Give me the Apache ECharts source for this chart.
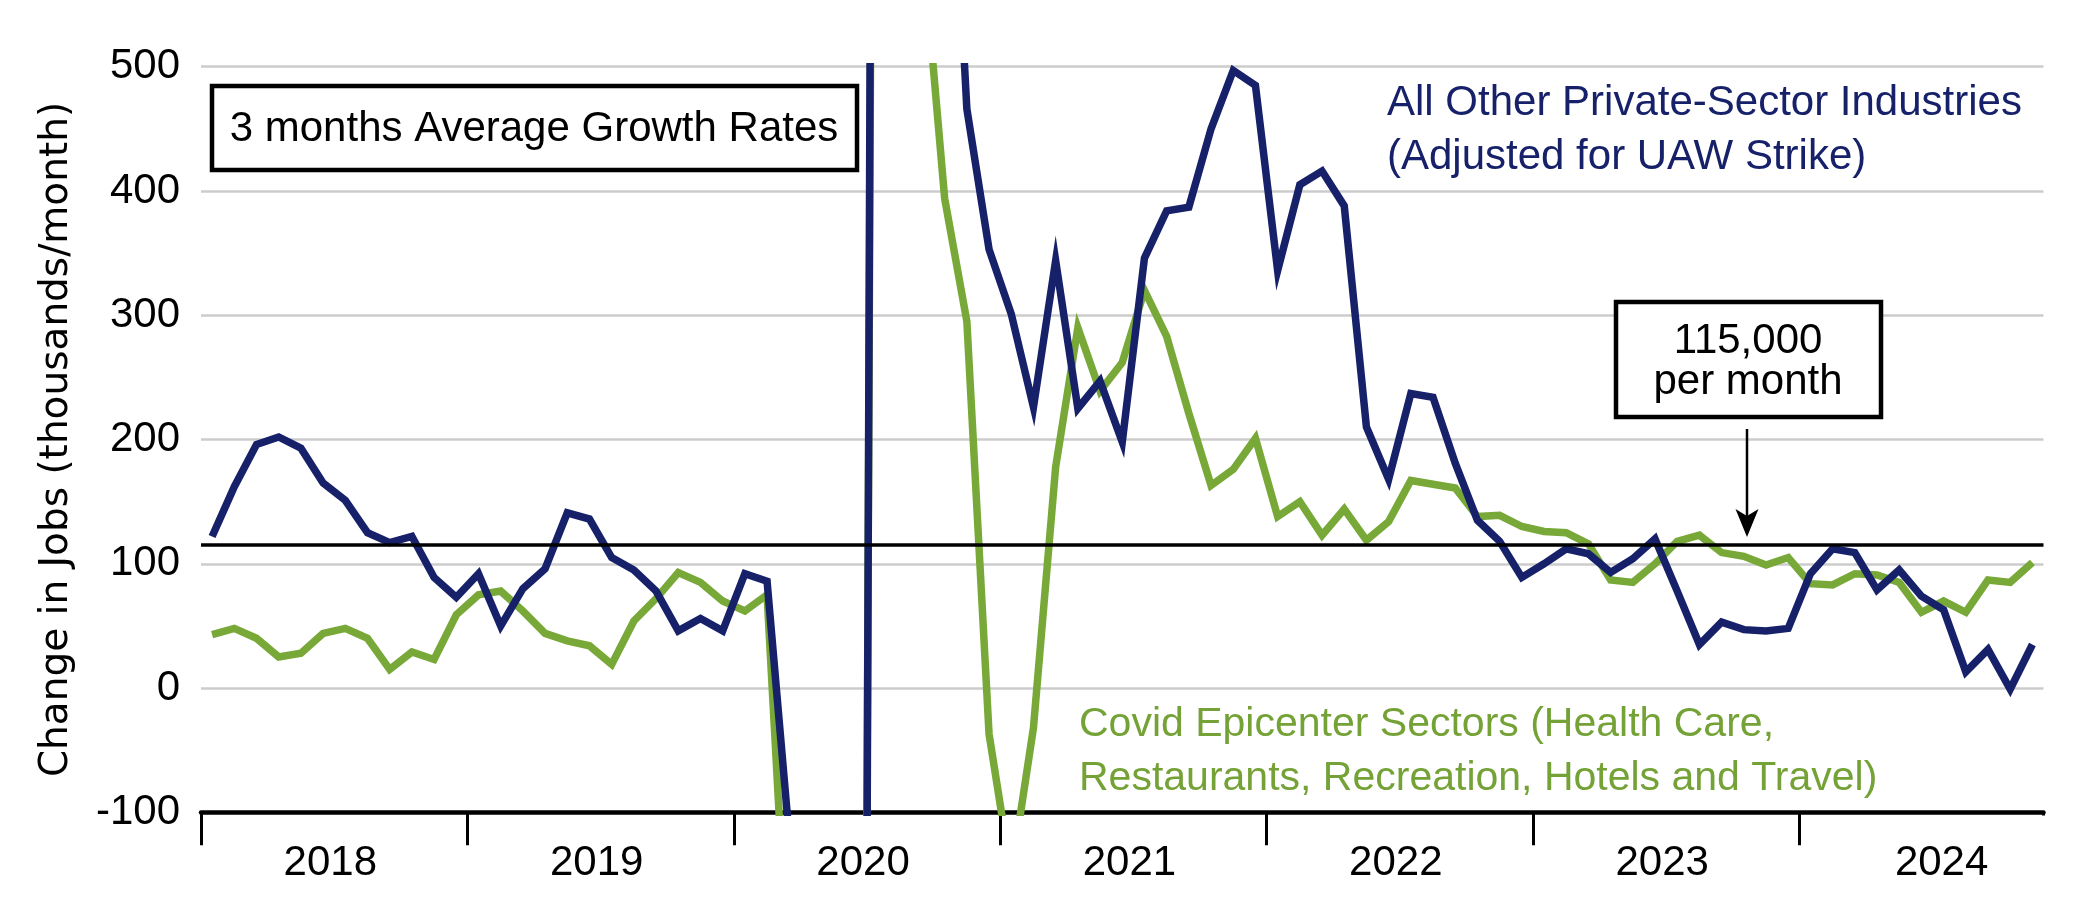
<!DOCTYPE html>
<html>
<head>
<meta charset="utf-8">
<script src="https://cdn.jsdelivr.net/npm/echarts@6/dist/echarts.min.js"></script>
<style>
  html, body { margin: 0; padding: 0; background: #ffffff; }
  #chart { width: 2084px; height: 918px; }
</style>
</head>
<body>
<div id="chart"></div>
<script>
// ---- Data (thousands of jobs per month, 3-month average), Jan 2018 - Nov 2024 ----
const years = ['2018', '2019', '2020', '2021', '2022', '2023', '2024'];
const monthsInLastYear = 11;
const categories = [];
years.forEach(function (y, yi) {
  const n = (yi === years.length - 1) ? monthsInLastYear : 12;
  for (let m = 1; m <= n; m++) categories.push(y + '-' + (m < 10 ? '0' + m : m));
});

const allOtherPrivate = [
  122, 162, 196, 202, 193, 165, 151, 125, 117, 122, 89, 73,
  92, 50, 80, 96, 141, 136, 105, 95, 78, 46, 56, 46,
  92, 86, -120, -6500, -4000, -2500, 2200, 1800, 1100, 800, 466, 353,
  301, 226, 344, 225, 247, 198, 346, 384, 387, 450, 497, 485,
  336, 405, 416, 388, 210, 168, 237, 234, 181, 135, 118, 89,
  100, 112, 108, 93, 104, 120, 78, 35, 53, 47, 46, 48,
  92, 112, 109, 79, 95, 74, 63, 13, 31, -1, 35
];

const covidEpicenter = [
  43, 48, 40, 25, 28, 44, 48, 40, 15, 29, 23, 59,
  75, 78, 62, 44, 38, 34, 19, 54, 72, 93, 85, 70,
  62, 75, -250, -3500, -2800, -2000, 1800, 1100, 600, 394, 295, -37,
  -150, -32, 178, 290, 239, 262, 320, 283, 221, 163, 176, 201,
  138, 150, 123, 144, 119, 134, 167, 164, 161, 138, 139, 130,
  126, 125, 116, 87, 85, 100, 118, 123, 109, 106, 99, 105,
  84, 83, 92, 91, 85, 61, 70, 61, 87, 85, 101
];

const referenceLevel = 115;
const yTicks = { min: -100, max: 500, interval: 100 };

const BLUE = '#16216a';
const GREEN = '#78a938';
const SANS = '"Liberation Sans", Arial, sans-serif';

const chart = echarts.init(document.getElementById('chart'), null, { renderer: 'canvas' });

const option = {
  animation: false,
  backgroundColor: '#ffffff',
  grid: { left: 201, right: 40.5, top: 66.7, bottom: 105.7, containLabel: false },
  xAxis: {
    type: 'category',
    data: categories,
    boundaryGap: true,
    axisLine: { show: true, onZero: false, lineStyle: { color: '#000', width: 4.5 } },
    axisTick: {
      show: true,
      length: 33,
      interval: function (index) { return index % 12 === 0; },
      lineStyle: { color: '#000', width: 3 }
    },
    axisLabel: {
      interval: function (index) { return index % 12 === 6; },
      margin: 30,
      color: '#000',
      fontFamily: SANS,
      fontSize: 42,
      formatter: function (v) {
        const y = v.slice(0, 4);
        return y === years[years.length - 1] ? '{b|' + y + '}' : '{a|' + y + '}';
      },
      rich: {
        a: { fontFamily: SANS, fontSize: 42, color: '#000', padding: [0, 30, 0, 0] },
        b: { fontFamily: SANS, fontSize: 42, color: '#000', padding: [0, 4, 0, 0] }
      }
    },
    splitLine: { show: false }
  },
  yAxis: {
    type: 'value',
    min: yTicks.min,
    max: yTicks.max,
    interval: yTicks.interval,
    axisLine: { show: false },
    axisTick: { show: false },
    axisLabel: { color: '#000', fontFamily: SANS, fontSize: 42, margin: 21 },
    splitLine: { show: true, lineStyle: { color: '#cccccc', width: 2.5 } },
    name: 'Change in Jobs (thousands/month)',
    nameLocation: 'middle',
    nameRotate: 90,
    nameGap: 125,
    nameTextStyle: { color: '#000', fontFamily: '"DejaVu Sans", Verdana, sans-serif', fontSize: 39 }
  },
  series: [
    {
      name: 'Covid Epicenter Sectors',
      type: 'line',
      data: covidEpicenter,
      symbol: 'none',
      clip: true,
      lineStyle: { color: GREEN, width: 7.5, join: 'miter' },
      z: 2,
      markLine: {
        silent: true,
        symbol: ['none', 'none'],
        label: { show: false },
        lineStyle: { color: '#000', width: 3.5, type: 'solid' },
        data: [{ yAxis: referenceLevel }]
      }
    },
    {
      name: 'All Other Private-Sector Industries',
      type: 'line',
      data: allOtherPrivate,
      symbol: 'none',
      clip: true,
      lineStyle: { color: BLUE, width: 7.5, join: 'miter' },
      z: 3
    }
  ],
  graphic: [
    // hide the closing tick at the right end of the time axis (reference has none)
    {
      type: 'rect', z: 100,
      shape: { x: 2036, y: 815.5, width: 20, height: 40 },
      style: { fill: '#ffffff' }
    },
    // Title box
    {
      type: 'rect', z: 10,
      shape: { x: 212, y: 86, width: 645, height: 84 },
      style: { fill: '#fff', stroke: '#000', lineWidth: 4.5 }
    },
    {
      type: 'text', z: 11,
      style: {
        x: 534, y: 129, text: '3 months Average Growth Rates',
        fill: '#000', font: '42px ' + SANS, textAlign: 'center', textVerticalAlign: 'middle'
      }
    },
    // 115,000 box
    {
      type: 'rect', z: 10,
      shape: { x: 1616, y: 302, width: 265, height: 115 },
      style: { fill: '#fff', stroke: '#000', lineWidth: 4.5 }
    },
    {
      type: 'text', z: 11,
      style: {
        x: 1748, y: 362, text: '115,000\nper month', lineHeight: 41,
        fill: '#000', font: '42px ' + SANS, textAlign: 'center', textVerticalAlign: 'middle'
      }
    },
    // arrow
    {
      type: 'line', z: 10,
      shape: { x1: 1747, y1: 429, x2: 1747, y2: 520 },
      style: { stroke: '#000', lineWidth: 2.5 }
    },
    {
      type: 'polygon', z: 10,
      shape: { points: [[1747, 537], [1735.5, 509], [1747, 516], [1758.5, 509]] },
      style: { fill: '#000' }
    },
    // series labels
    {
      type: 'text', z: 11,
      style: {
        x: 1387, y: 76.5, text: 'All Other Private-Sector Industries\n(Adjusted for UAW Strike)',
        lineHeight: 54, fill: BLUE, font: '42px ' + SANS, textAlign: 'left', textVerticalAlign: 'top'
      }
    },
    {
      type: 'text', z: 11,
      style: {
        x: 1079, y: 697.5, text: 'Covid Epicenter Sectors (Health Care,\nRestaurants, Recreation, Hotels and Travel)',
        lineHeight: 54, fill: '#74a236', font: '41px ' + SANS, textAlign: 'left', textVerticalAlign: 'top'
      }
    }
  ]
};

chart.setOption(option);
</script>
</body>
</html>
